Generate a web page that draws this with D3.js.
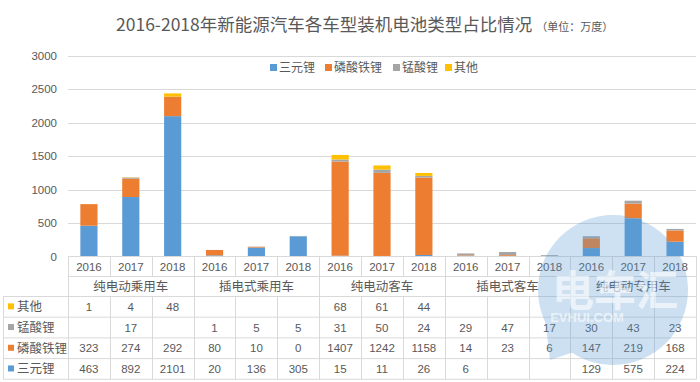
<!DOCTYPE html>
<html>
<head>
<meta charset="utf-8">
<script src="https://cdn.jsdelivr.net/npm/d3@7"></script>
<style>
  body { margin: 0; background: #fff; }
  svg { font-family: "Noto Sans CJK SC", "Noto Sans", sans-serif; }
  .num { font-family: "Liberation Sans", "Noto Sans", sans-serif; }
</style>
</head>
<body>
<svg class="chart" width="700" height="382"></svg>
<script>
const groups = ["纯电动乘用车", "插电式乘用车", "纯电动客车", "插电式客车", "纯电动专用车"];
const years = ["2016", "2017", "2018"];
const seriesNames = ["三元锂", "磷酸铁锂", "锰酸锂", "其他"];
const seriesColors = ["#5B9BD5", "#ED7D31", "#A5A5A5", "#FFC000"];

// one value per group/year, null = empty cell
const ternary = [463, 892, 2101, 20, 136, 305, 15, 11, 26, 6, null, null, 129, 575, 224];
const lfp = [323, 274, 292, 80, 10, 0, 1407, 1242, 1158, 14, 23, 6, 147, 219, 168];
const lmo = [null, 17, null, 1, 5, 5, 31, 50, 24, 29, 47, 17, 30, 43, 23];
const other = [1, 4, 48, null, null, null, 68, 61, 44, null, null, null, null, null, null];
const yTicks = [0, 500, 1000, 1500, 2000, 2500, 3000];

const seriesValues = [ternary, lfp, lmo, other];
const textColor = "#595959";
const lineColor = "#D9D9D9";

const svg = d3.select(".chart");

const cols = groups.flatMap((g, gi) => years.map((y, yi) => ({ group: g, gi, year: y, i: gi * 3 + yi })));

const x = d3.scaleBand().domain(cols.map((d) => d.i)).range([68, 696]).paddingInner(0.59).paddingOuter(0.295);
const xCol = d3.scaleBand().domain(cols.map((d) => d.i)).range([68, 696]);
const y = d3.scaleLinear().domain([0, 3000]).range([256.7, 56]);

/*
      Title
*/
const title = svg.append("text").attr("x", 116).attr("y", 31).attr("fill", textColor);
title.append("tspan").attr("font-size", "17.5px").text("2016-2018年新能源汽车各车型装机电池类型占比情况");
title.append("tspan").attr("font-size", "11px").attr("dx", 4).text("（单位：万度）");

/*
      Grid + y axis
*/
svg
  .append("g")
  .selectAll("line")
  .data(yTicks.filter((t) => t > 0))
  .join("line")
  .attr("x1", 68)
  .attr("x2", 696)
  .attr("y1", (d) => Math.round(y(d)) + 0.5)
  .attr("y2", (d) => Math.round(y(d)) + 0.5)
  .attr("stroke", lineColor)
  .attr("stroke-width", 1);

svg
  .append("g")
  .selectAll("text")
  .data(yTicks)
  .join("text")
  .attr("class", "num")
  .attr("x", 57)
  .attr("y", (d) => y(d) + 4)
  .attr("text-anchor", "end")
  .attr("font-size", "11.5px")
  .attr("fill", textColor)
  .text((d) => d);

/*
      Legend
*/
const legend = svg.append("g").attr("transform", "translate(270,68)");
const legendX = [0, 55, 123, 175];
seriesNames.forEach((name, si) => {
  const item = legend.append("g").attr("transform", `translate(${legendX[si]},0)`);
  item.append("rect").attr("x", 0).attr("y", -4).attr("width", 7).attr("height", 7).attr("fill", seriesColors[si]);
  item.append("text").attr("x", 9).attr("y", 4).attr("font-size", "12px").attr("fill", textColor).text(name);
});

/*
      Stacked bars
*/
const rows = cols.map((c) => {
  const r = { i: c.i };
  seriesNames.forEach((n, si) => (r[n] = seriesValues[si][c.i] || 0));
  return r;
});
const stacked = d3.stack().keys(seriesNames)(rows);

svg
  .append("g")
  .selectAll("g")
  .data(stacked)
  .join("g")
  .attr("fill", (d, si) => seriesColors[si])
  .selectAll("rect")
  .data((d) => d)
  .join("rect")
  .attr("x", (d) => x(d.data.i))
  .attr("width", x.bandwidth())
  .attr("y", (d) => y(d[1]))
  .attr("height", (d) => y(d[0]) - y(d[1]));

/*
      Data table
*/
const table = svg.append("g").attr("stroke", lineColor).attr("stroke-width", 1);
const rowTop = 296.5;
const rowH = 20.7;
const tableLeft = 3.5;
const tableRight = 696.5;

// horizontal lines
table.append("line").attr("x1", 68).attr("x2", tableRight).attr("y1", 256.5).attr("y2", 256.5);
table.append("line").attr("x1", 68).attr("x2", tableRight).attr("y1", 276.5).attr("y2", 276.5);
d3.range(5).forEach((k) => {
  table
    .append("line")
    .attr("x1", tableLeft)
    .attr("x2", tableRight)
    .attr("y1", rowTop + k * rowH)
    .attr("y2", rowTop + k * rowH);
});

// vertical lines
const colEdges = cols.map((c) => xCol(c.i)).concat([696]);
colEdges.forEach((ex, k) => {
  const px = Math.round(ex) + 0.5;
  const groupEdge = k % 3 === 0;
  table
    .append("line")
    .attr("x1", px)
    .attr("x2", px)
    .attr("y1", 256.5)
    .attr("y2", groupEdge ? rowTop + 4 * rowH : 276.5);
  if (!groupEdge) {
    table.append("line").attr("x1", px).attr("x2", px).attr("y1", rowTop).attr("y2", rowTop + 4 * rowH);
  }
});
table.append("line").attr("x1", tableLeft).attr("x2", tableLeft).attr("y1", rowTop).attr("y2", rowTop + 4 * rowH);

// year labels
svg
  .append("g")
  .selectAll("text")
  .data(cols)
  .join("text")
  .attr("class", "num")
  .attr("x", (d) => xCol(d.i) + xCol.bandwidth() / 2)
  .attr("y", 271)
  .attr("text-anchor", "middle")
  .attr("font-size", "11.5px")
  .attr("fill", textColor)
  .text((d) => d.year);

// group labels
svg
  .append("g")
  .selectAll("text")
  .data(groups)
  .join("text")
  .attr("x", (d, gi) => xCol(gi * 3) + xCol.bandwidth() * 1.5)
  .attr("y", 291)
  .attr("text-anchor", "middle")
  .attr("font-size", "12.5px")
  .attr("fill", textColor)
  .text((d) => d);

// table rows, top row = last series
const tableOrder = [3, 2, 1, 0];
tableOrder.forEach((si, k) => {
  const cy = rowTop + k * rowH + rowH / 2;
  svg.append("rect").attr("x", 8).attr("y", cy - 3.5).attr("width", 6).attr("height", 6).attr("fill", seriesColors[si]);
  svg
    .append("text")
    .attr("x", 17)
    .attr("y", cy + 4.5)
    .attr("font-size", "12.5px")
    .attr("fill", textColor)
    .text(seriesNames[si]);
  svg
    .append("g")
    .selectAll("text")
    .data(seriesValues[si].map((v, i) => ({ v, i })).filter((d) => d.v !== null))
    .join("text")
    .attr("class", "num")
    .attr("x", (d) => xCol(d.i) + xCol.bandwidth() / 2)
    .attr("y", cy + 4)
    .attr("text-anchor", "middle")
    .attr("font-size", "11.5px")
    .attr("fill", textColor)
    .text((d) => d.v);
});

/*
      Watermark
*/
const wm = svg.append("g").attr("opacity", 0.3);
wm.append("circle").attr("cx", 613).attr("cy", 290).attr("r", 75).attr("fill", "#5B9BD5");
wm.append("path").attr("d", "M545,318 L550,360 L580,350 Z").attr("fill", "#5B9BD5");
const wmText = svg.append("g").attr("fill", "#fff").attr("opacity", 0.6);
wmText
  .append("text")
  .attr("x", 615)
  .attr("y", 306)
  .attr("text-anchor", "middle")
  .attr("font-size", "42px")
  .attr("font-weight", "bold")
  .text("电车汇");
wmText
  .append("text")
  .attr("x", 587)
  .attr("y", 322)
  .attr("text-anchor", "middle")
  .attr("font-size", "13px")
  .attr("font-weight", "bold")
  .attr("font-family", "Liberation Sans, sans-serif")
  .text("EVHUI.COM");
</script>
</body>
</html>
